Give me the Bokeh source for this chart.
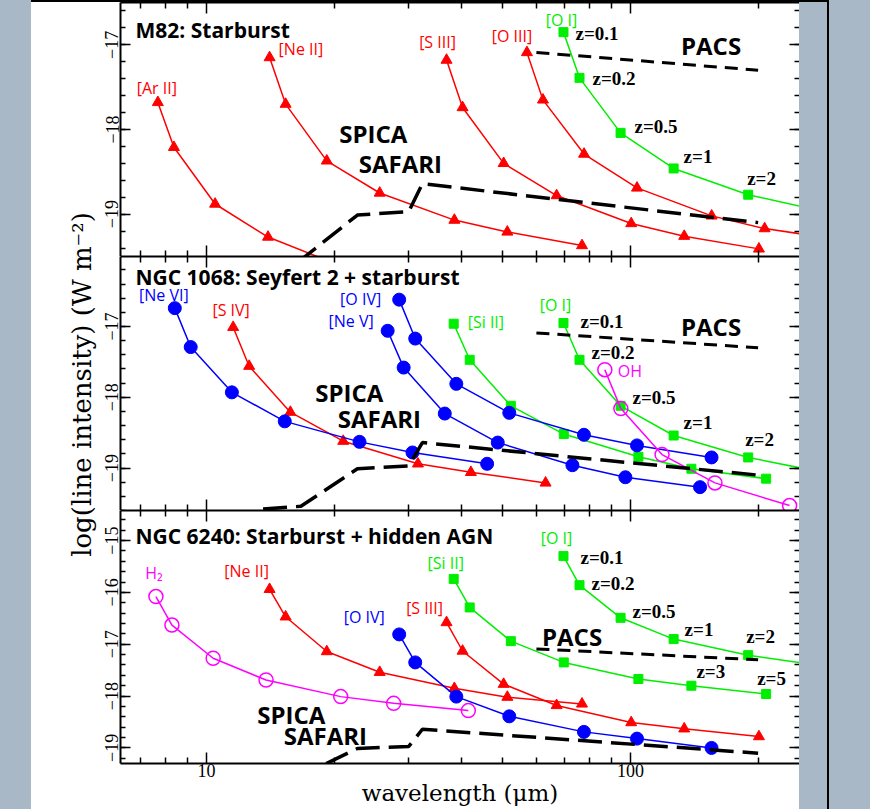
import math
from bokeh.plotting import figure
from bokeh.models import (Range1d, FixedTicker, SingleIntervalTicker, LinearAxis,
                          LogAxis, Label, Div)
from bokeh.layouts import row, column
from bokeh.embed import file_html
from bokeh.resources import INLINE

# ---------------- data (wavelength in micron, log line intensity in W m^-2) -------------
# points of each curve are the line redshifted to z = 0.1, 0.2, 0.5, 1, 2, 3, 5
z_labels_1 = ["z=0.1", "z=0.2", "z=0.5", "z=1", "z=2"]
z_labels_3 = ["z=3", "z=5"]

# Panel 1: M82
m82_ar2_wl = [7.68, 8.38, 10.48, 13.97, 20.96]
m82_ar2 = [-17.68, -18.21, -18.88, -19.27, -19.62]
m82_ne2_wl = [14.09, 15.37, 19.22, 25.62, 38.43, 51.24, 76.86]
m82_ne2 = [-17.15, -17.70, -18.37, -18.75, -19.07, -19.21, -19.37]
m82_s3_wl = [36.83, 40.18, 50.22, 66.96, 100.4, 133.9, 200.9]
m82_s3 = [-17.18, -17.74, -18.40, -18.78, -19.11, -19.26, -19.41]
m82_o3_wl = [56.99, 62.17, 77.72, 103.6, 155.4, 207.2, 310.9]
m82_o3 = [-17.09, -17.65, -18.29, -18.69, -19.02, -19.17, -19.30]
m82_o1_wl = [69.50, 75.82, 94.77, 126.4, 189.5, 252.7]
m82_o1 = [-16.85, -17.39, -18.04, -18.46, -18.77, -18.91]

# Panel 2: NGC 1068
n1068_ne6_wl = [8.42, 9.18, 11.48, 15.30, 22.96, 30.61, 45.91]
n1068_ne6 = [-16.74, -17.29, -17.93, -18.34, -18.63, -18.78, -18.94]
n1068_s4_wl = [11.56, 12.61, 15.77, 21.02, 31.53, 42.04, 63.06]
n1068_s4 = [-17.01, -17.56, -18.21, -18.62, -18.94, -19.06, -19.21]
n1068_ne5_wl = [26.75, 29.18, 36.48, 48.64, 72.96, 97.28, 145.9]
n1068_ne5 = [-17.06, -17.58, -18.23, -18.64, -18.96, -19.13, -19.27]
n1068_o4_wl = [28.48, 31.07, 38.84, 51.78, 77.67, 103.6, 155.3]
n1068_o4 = [-16.62, -17.17, -17.81, -18.22, -18.53, -18.68, -18.85]
n1068_si2_wl = [38.29, 41.77, 52.22, 69.62, 104.4, 139.2, 208.9]
n1068_si2 = [-16.96, -17.47, -18.12, -18.52, -18.84, -19.01, -19.15]
n1068_o1_wl = [69.50, 75.82, 94.77, 126.4, 189.5, 252.7]
n1068_o1 = [-16.95, -17.47, -18.12, -18.54, -18.85, -19.00]
n1068_oh_wl = [87.0, 94.9, 118.7, 158.2, 237.3]
n1068_oh = [-17.61, -18.16, -18.81, -19.21, -19.53]

# Panel 3: NGC 6240
n6240_h2_wl = [7.60, 8.29, 10.37, 13.82, 20.73, 27.64, 41.46]
n6240_h2 = [-16.08, -16.63, -17.27, -17.69, -18.01, -18.14, -18.28]
n6240_ne2_wl = [14.09, 15.37, 19.22, 25.62, 38.43, 51.24, 76.86]
n6240_ne2 = [-15.94, -16.47, -17.14, -17.54, -17.85, -18.02, -18.15]
n6240_o4_wl = [28.48, 31.07, 38.84, 51.78, 77.67, 103.6, 155.3]
n6240_o4 = [-16.81, -17.35, -18.01, -18.39, -18.69, -18.82, -19.00]
n6240_s3_wl = [36.83, 40.18, 50.22, 66.96, 100.4, 133.9, 200.9]
n6240_s3 = [-16.58, -17.13, -17.77, -18.18, -18.51, -18.63, -18.78]
n6240_si2_wl = [38.29, 41.77, 52.22, 69.62, 104.4, 139.2, 208.9]
n6240_si2 = [-15.74, -16.29, -16.94, -17.35, -17.67, -17.80, -17.96]
n6240_o1_wl = [69.50, 75.82, 94.77, 126.4, 189.5, 252.7]
n6240_o1 = [-15.30, -15.86, -16.49, -16.90, -17.21, -17.36]

# instrument sensitivities
pacs_wl = [60.0, 200.0]
pacs = [-17.09, -17.30]
safari_wl = [13.6, 16.7, 22.7, 30.0, 32.3, 200.0]
safari = [-19.58, -19.54, -19.01, -18.97, -18.64, -19.10]

# axes
x_ticks = [10, 100]
x_tick_labels = ["10", "100"]
x_minor_ticks = [7, 8, 9, 20, 30, 40, 50, 60, 70, 80, 90, 200]
X_START, X_END = 6.27, 250.4

# ---------------- style ----------------
RED, BLUE, GREEN, MAG = "#ff0000", "#0000ff", "#00ee00", "#ff00ff"
BG = "#a8b8c7"
FRAME_W = 679
FRAME_H1, FRAME_H2, FRAME_H3 = 254, 254, 253
BOTTOM_B = 46
LEFT_B = 23

LINE_LBL = dict(text_font="Open Sans", text_font_size="16px", text_baseline="middle")
Z_LBL = dict(text_font="Liberation Serif", text_font_style="bold", text_font_size="19px",
             text_baseline="middle", text_color="black", text_align="left")
INSTR = dict(text_font="Open Sans", text_font_style="bold", text_font_size="24px",
             text_baseline="middle", text_color="black")
TITLE = dict(text_font="Open Sans", text_font_style="bold", text_font_size="21px",
             text_baseline="middle", text_color="black", text_align="left")


def style_axis(ax, major_in, minor_in, labels, line=True, font_size="16px"):
    ax.axis_line_width = 2
    ax.axis_line_color = "black" if line else None
    ax.major_tick_in = major_in
    ax.major_tick_out = 0
    ax.minor_tick_in = minor_in
    ax.minor_tick_out = 0
    ax.major_tick_line_width = 1.5
    ax.minor_tick_line_width = 1.5
    ax.major_tick_line_color = "black"
    ax.minor_tick_line_color = "black"
    if labels:
        ax.major_label_text_font = "Liberation Serif"
        ax.major_label_text_font_size = font_size
        ax.major_label_text_color = "black"
    else:
        ax.major_label_text_font_size = "1px"
        ax.major_label_text_alpha = 0
        ax.major_label_standoff = 0
        ax.axis_label_standoff = 0


def make_panel(ylo, yhi, frame_h, bottom_border, xlabels):
    p = figure(width=LEFT_B + FRAME_W, height=frame_h + bottom_border,
               x_axis_type="log", x_range=Range1d(X_START, X_END),
               y_range=Range1d(ylo, yhi), x_axis_location=None, y_axis_location=None,
               output_backend="svg", toolbar_location=None,
               min_border_left=LEFT_B, min_border_right=0, min_border_top=0,
               min_border_bottom=bottom_border)
    p.outline_line_color = None
    p.background_fill_color = "white"
    p.border_fill_color = "white"
    p.xgrid.visible = False
    p.ygrid.visible = False
    for loc in ("below", "above"):
        ax = LogAxis(ticker=FixedTicker(ticks=x_ticks, minor_ticks=x_minor_ticks))
        lab = xlabels and loc == "below"
        style_axis(ax, 11, 6, lab, font_size="18px")
        if lab:
            ax.major_label_overrides = dict(zip(x_ticks, x_tick_labels))
            ax.major_label_standoff = 0
            ax.axis_label = "wavelength (\u03bcm)"
            ax.axis_label_text_font = "DejaVu Serif"
            ax.axis_label_text_font_size = "23px"
            ax.axis_label_text_font_style = "normal"
            ax.axis_label_text_color = "black"
            ax.axis_label_standoff = 0
        p.add_layout(ax, loc)
    majors = list(range(math.ceil(ylo), math.floor(yhi) + 1))
    for loc in ("left", "right"):
        ax = LinearAxis(ticker=SingleIntervalTicker(interval=1, num_minor_ticks=5))
        lab = loc == "left"
        style_axis(ax, 10, 5, lab, line=lab, font_size="18px")
        if lab:
            ax.major_label_orientation = "vertical"
            ax.major_label_standoff = 2
            ax.major_label_overrides = {m: "\u2212" + str(abs(m)) for m in majors}
        p.add_layout(ax, loc)
    return p


def curve(p, wl, val, color, marker, size, hollow=False):
    p.line(wl, val, line_color=color, line_width=1.5)
    xs = [w for w in wl if X_START <= w <= X_END]
    ys = [v for w, v in zip(wl, val) if X_START <= w <= X_END]
    if hollow:
        p.scatter(xs, ys, marker=marker, size=size, line_color=color, fill_color=None,
                  line_width=1.5)
    else:
        p.scatter(xs, ys, marker=marker, size=size, line_color=color, fill_color=color)


def instruments(p):
    p.line(safari_wl, safari, line_color="black", line_width=3.5, line_dash="24 9")
    p.line(pacs_wl, pacs, line_color="black", line_width=3, line_dash="13 8")


def lbl(p, x, y, text, dx, dy, **kw):
    # dx, dy: screen pixel offsets (dy positive = downwards)
    p.add_layout(Label(x=x, y=y, text=text, x_offset=dx, y_offset=-dy, **kw))


def title(p, text, below_top):
    lbl(p, X_START, p.y_range.end, text, 15, below_top, **TITLE)


def z_lbls(p, wl, val, offsets, names):
    for w, v, (dx, dy), t in zip(wl, val, offsets, names):
        lbl(p, w, v, t, dx, dy, **Z_LBL)


def instr_lbls(p, pacs_off, spica_off, safari_off):
    lbl(p, pacs_wl[-1], pacs[-1], "PACS", pacs_off[0], pacs_off[1], text_align="right", **INSTR)
    lbl(p, safari_wl[4], safari[4], "SPICA", spica_off[0], spica_off[1], text_align="center", **INSTR)
    lbl(p, safari_wl[4], safari[4], "SAFARI", safari_off[0], safari_off[1], text_align="center", **INSTR)


# ---------------- panel 1 : M82 ----------------
p1 = make_panel(-19.5, -16.5, FRAME_H1, 0, False)
curve(p1, m82_ar2_wl, m82_ar2, RED, "triangle", 11)
curve(p1, m82_ne2_wl, m82_ne2, RED, "triangle", 11)
curve(p1, m82_s3_wl, m82_s3, RED, "triangle", 11)
curve(p1, m82_o3_wl, m82_o3, RED, "triangle", 11)
curve(p1, m82_o1_wl, m82_o1, GREEN, "square", 9)
instruments(p1)
title(p1, "M82: Starburst", 27)
lbl(p1, m82_ar2_wl[0], m82_ar2[0], "[Ar II]", -1, -14, text_color=RED, text_align="center", **LINE_LBL)
lbl(p1, m82_ne2_wl[0], m82_ne2[0], "[Ne II]", 9, -9, text_color=RED, text_align="left", **LINE_LBL)
lbl(p1, m82_s3_wl[0], m82_s3[0], "[S III]", -9, -18, text_color=RED, text_align="center", **LINE_LBL)
lbl(p1, m82_o3_wl[0], m82_o3[0], "[O III]", -15, -16, text_color=RED, text_align="center", **LINE_LBL)
lbl(p1, m82_o1_wl[0], m82_o1[0], "[O I]", -2, -12, text_color=GREEN, text_align="center", **LINE_LBL)
z_lbls(p1, m82_o1_wl, m82_o1, [(12, 1), (13, 1), (14, -6), (10, -12), (-1, -16)], z_labels_1)
instr_lbls(p1, (-17, -25), (-49, -50), (-22, -20))

# ---------------- panel 2 : NGC 1068 ----------------
p2 = make_panel(-19.6, -16.01, FRAME_H2, 0, False)
curve(p2, n1068_s4_wl, n1068_s4, RED, "triangle", 11)
curve(p2, n1068_ne6_wl, n1068_ne6, BLUE, "circle", 13)
curve(p2, n1068_si2_wl, n1068_si2, GREEN, "square", 9)
curve(p2, n1068_o1_wl, n1068_o1, GREEN, "square", 9)
curve(p2, n1068_ne5_wl, n1068_ne5, BLUE, "circle", 13)
curve(p2, n1068_o4_wl, n1068_o4, BLUE, "circle", 13)
curve(p2, n1068_oh_wl, n1068_oh, MAG, "circle", 14, hollow=True)
instruments(p2)
title(p2, "NGC 1068: Seyfert 2 + starburst", 20)
lbl(p2, n1068_ne6_wl[0], n1068_ne6[0], "[Ne VI]", -11, -13, text_color=BLUE, text_align="center", **LINE_LBL)
lbl(p2, n1068_s4_wl[0], n1068_s4[0], "[S IV]", -2, -17, text_color=RED, text_align="center", **LINE_LBL)
lbl(p2, n1068_o4_wl[0], n1068_o4[0], "[O IV]", -18, -1, text_color=BLUE, text_align="right", **LINE_LBL)
lbl(p2, n1068_ne5_wl[0], n1068_ne5[0], "[Ne V]", -14, -10, text_color=BLUE, text_align="right", **LINE_LBL)
lbl(p2, n1068_si2_wl[0], n1068_si2[0], "[Si II]", 14, -2, text_color=GREEN, text_align="left", **LINE_LBL)
lbl(p2, n1068_o1_wl[0], n1068_o1[0], "[O I]", -8, -18, text_color=GREEN, text_align="center", **LINE_LBL)
lbl(p2, n1068_oh_wl[0], n1068_oh[0], "OH", 13, 1, text_color=MAG, text_align="left", **LINE_LBL)
z_lbls(p2, n1068_o1_wl, n1068_o1, [(17, -2), (12, -7), (12, -8), (10, -13), (-3, -18)], z_labels_1)
instr_lbls(p2, (-17, -21), (-73, -50), (-43, -24))

# ---------------- panel 3 : NGC 6240 ----------------
p3 = make_panel(-19.3, -14.42, FRAME_H3, BOTTOM_B, True)
curve(p3, n6240_h2_wl, n6240_h2, MAG, "circle", 14, hollow=True)
curve(p3, n6240_ne2_wl, n6240_ne2, RED, "triangle", 11)
curve(p3, n6240_s3_wl, n6240_s3, RED, "triangle", 11)
curve(p3, n6240_o4_wl, n6240_o4, BLUE, "circle", 13)
curve(p3, n6240_si2_wl, n6240_si2, GREEN, "square", 9)
curve(p3, n6240_o1_wl, n6240_o1, GREEN, "square", 9)
instruments(p3)
title(p3, "NGC 6240: Starburst + hidden AGN", 25)
lbl(p3, n6240_h2_wl[0], n6240_h2[0], "H\u2082", -2, -24, text_color=MAG, text_align="center", **LINE_LBL)
lbl(p3, n6240_ne2_wl[0], n6240_ne2[0], "[Ne II]", -23, -18, text_color=RED, text_align="center", **LINE_LBL)
lbl(p3, n6240_si2_wl[0], n6240_si2[0], "[Si II]", -8, -16, text_color=GREEN, text_align="center", **LINE_LBL)
lbl(p3, n6240_o1_wl[0], n6240_o1[0], "[O I]", -7, -18, text_color=GREEN, text_align="center", **LINE_LBL)
lbl(p3, n6240_o4_wl[0], n6240_o4[0], "[O IV]", -35, -17, text_color=BLUE, text_align="center", **LINE_LBL)
lbl(p3, n6240_s3_wl[0], n6240_s3[0], "[S III]", -22, -14, text_color=RED, text_align="center", **LINE_LBL)
z_lbls(p3, n6240_o1_wl, n6240_o1, [(17, 1), (12, -2), (12, -6), (11, -10), (-2, -19)], z_labels_1)
z_lbls(p3, n6240_si2_wl[5:], n6240_si2[5:], [(5, -14), (-9, -16)], z_labels_3)
instr_lbls(p3, (-156, -23), (-131, -15), (-97, 6))

# ---------------- y-axis title column ----------------
YT_W = 89 - LEFT_B
YT_H = FRAME_H1 + FRAME_H2 + FRAME_H3 + BOTTOM_B
yt = figure(width=YT_W, height=YT_H, x_range=Range1d(0, 1), y_range=Range1d(0, 1),
            x_axis_location=None, y_axis_location=None, output_backend="svg",
            toolbar_location=None, min_border=0)
yt.outline_line_color = None
yt.xgrid.visible = False
yt.ygrid.visible = False
yt.add_layout(Label(x=YT_W - 16, y=YT_H - 382, x_units="screen", y_units="screen",
                    text="log(line intensity) (W m\u207b\u00b2)", angle=math.pi / 2,
                    text_font="DejaVu Serif", text_font_size="26px", text_align="center",
                    text_baseline="middle", text_color="black"))

# ---------------- page layout ----------------
TOTAL_H = 2 + YT_H
inner_w = YT_W + LEFT_B + FRAME_W + 28


def block(w, h, color):
    return Div(width=w, height=h, margin=0, styles={"background-color": color})


layout = row(
    block(31, TOTAL_H, BG),
    column(
        block(inner_w, 2, "black"),
        row(yt, column(p1, p2, p3, spacing=0), block(28, YT_H, BG), spacing=0),
        spacing=0,
    ),
    block(2, TOTAL_H, "black"),
    block(870 - 31 - inner_w - 2, TOTAL_H, BG),
    spacing=0,
)

open("out.html", "w").write(file_html(layout, INLINE))
